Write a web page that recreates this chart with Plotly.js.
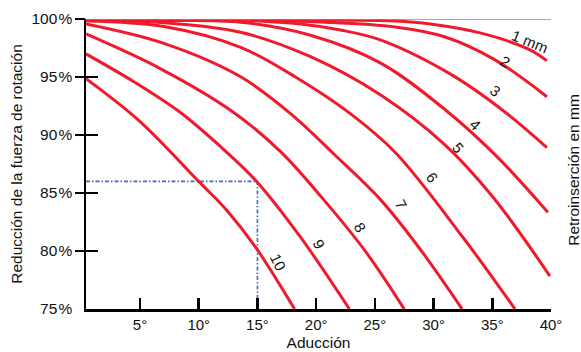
<!DOCTYPE html>
<html>
<head>
<meta charset="utf-8">
<script src="https://cdn.plot.ly/plotly-3.0.1.min.js"></script>
<style>
  html, body { margin: 0; padding: 0; background: #fff; }
  #chart { width: 581px; height: 352px; }
</style>
</head>
<body>
<div id="chart"></div>
<script>
// Retroinserción (mm) for each curve
const retro = [1, 2, 3, 4, 5, 6, 7, 8, 9, 10];
const curveLabels = ["1 mm", "2", "3", "4", "5", "6", "7", "8", "9", "10"];

// Aducción (°) and Reducción de la fuerza de rotación (%)
const adu1 = [0.40, 14.42, 22.07, 26.74, 29.71, 33.96, 38.21, 39.65];
const red1 = [99.95, 99.94, 99.90, 99.83, 99.57, 98.80, 97.34, 96.39];
const adu2 = [0.40, 13.57, 20.37, 26.74, 30.99, 35.23, 39.65];
const red2 = [99.94, 99.91, 99.74, 99.31, 98.45, 96.48, 93.30];
const adu3 = [0.40, 13.57, 18.67, 22.07, 25.46, 31.41, 35.83, 39.65];
const red3 = [99.94, 99.89, 99.57, 99.05, 98.20, 95.27, 92.18, 88.92];
const adu4 = [0.40, 6.77, 13.57, 19.52, 25.46, 30.99, 35.40, 39.74];
const red4 = [99.93, 99.87, 99.72, 98.60, 96.22, 92.18, 88.14, 83.33];
const adu5 = [0.40, 6.77, 13.57, 19.52, 25.46, 30.90, 35.00, 39.91];
const red5 = [99.91, 99.70, 98.86, 96.75, 93.47, 89.22, 84.72, 77.84];
const adu6 = [0.40, 7.03, 13.57, 18.24, 22.91, 26.74, 32.43, 36.93];
const red6 = [99.83, 99.35, 97.56, 95.00, 91.84, 88.49, 81.27, 75.00];
const adu7 = [0.40, 7.03, 13.57, 17.82, 21.64, 25.46, 28.86, 32.43];
const red7 = [99.57, 97.90, 95.02, 91.84, 88.23, 84.45, 80.15, 75.00];
const adu8 = [0.40, 6.60, 12.89, 16.97, 20.62, 24.19, 27.50];
const red8 = [98.71, 95.79, 92.01, 88.57, 84.45, 79.98, 75.00];
const adu9 = [0.40, 4.48, 8.47, 11.70, 14.93, 18.67, 22.83];
const red9 = [96.99, 94.59, 91.92, 89.14, 86.00, 81.19, 75.00];
const adu10 = [0.40, 5.00, 10.00, 12.40, 14.84, 18.16];
const red10 = [94.85, 91.16, 86.00, 83.50, 80.33, 75.00];

// Curve label positions (°, %) and angles
const labelX = [38.21, 36.08, 35.23, 33.54, 32.09, 29.88, 27.25, 23.76, 20.28, 16.80];
const labelY = [98.02, 96.31, 93.81, 90.89, 88.92, 86.34, 84.02, 82.04, 80.58, 79.04];
const labelAngle = [22, 32, 38, 44, 50, 56, 62, 60, 62, 64];

// Reference (dashed) guide at 15° / 86 %
const guideX = [0.4, 15, 15];
const guideY = [86, 86, 75];

// Ticks
const xTickVals = [5, 10, 15, 20, 25, 30, 35, 40];
const xTickText = ["5°", "10°", "15°", "20°", "25°", "30°", "35°", "40°"];
const yTickVals = [75, 80, 85, 90, 95, 100];
const yTickText = ["75\u200A%", "80\u200A%", "85\u200A%", "90\u200A%", "95\u200A%", "100\u200A%"];
const yMarkVals = [80, 85, 90, 95, 100];

const xs = [adu1, adu2, adu3, adu4, adu5, adu6, adu7, adu8, adu9, adu10];
const ys = [red1, red2, red3, red4, red5, red6, red7, red8, red9, red10];

const FONT = "Liberation Sans, Arial, Helvetica, sans-serif";
const RED = "#f01a2c";

const traces = [];
traces.push({
  x: guideX, y: guideY, type: "scatter", mode: "lines",
  line: { color: "#3a6cc8", width: 1.6, dash: "4px,2px,1.5px,2px" },
  hoverinfo: "skip", showlegend: false
});
retro.forEach((r, i) => {
  traces.push({
    x: xs[i], y: ys[i], type: "scatter", mode: "lines",
    name: r + " mm",
    line: { color: RED, width: 3, shape: "spline", smoothing: 1 },
    showlegend: false
  });
});
// empty helpers so the tick-only axes are drawn
traces.push({ x: [], y: [], yaxis: "y2", type: "scatter", mode: "lines", showlegend: false, hoverinfo: "skip" });
traces.push({ x: [], y: [], yaxis: "y3", type: "scatter", mode: "lines", showlegend: false, hoverinfo: "skip" });

const annotations = retro.map((r, i) => ({
  x: labelX[i], y: labelY[i], xref: "x", yref: "y",
  text: curveLabels[i], showarrow: false, textangle: labelAngle[i],
  font: { family: FONT, size: 15, color: "#111" }
}));
annotations.push({
  x: 1, y: 0.48, xref: "paper", yref: "paper", xshift: 23,
  text: "Retroinserción en mm", showarrow: false, textangle: -90,
  xanchor: "center", yanchor: "middle",
  font: { family: FONT, size: 15.5, color: "#111" }
});

const tickAxis = (kind, len) => ({
  overlaying: "y", range: [75, 100], tickmode: "array", tickvals: yMarkVals,
  ticks: kind, ticklen: len, tickwidth: 2.5, tickcolor: "#000",
  showticklabels: false, showgrid: false, zeroline: false, showline: false,
  fixedrange: true
});

const layout = {
  width: 581, height: 352,
  margin: { l: 86, r: 30, t: 19, b: 43 },
  paper_bgcolor: "#fff", plot_bgcolor: "#fff",
  font: { family: FONT, color: "#111" },
  xaxis: {
    range: [0.4, 40], tickmode: "array", tickvals: xTickVals, ticktext: xTickText,
    ticks: "inside", ticklen: 11, tickwidth: 2.5, tickcolor: "#000",
    showline: true, linecolor: "#000", linewidth: 2.5,
    showgrid: false, zeroline: false,
    tickfont: { family: FONT, size: 15, color: "#111" },
    title: { text: "Aducción", font: { family: FONT, size: 15.5, color: "#111" }, standoff: 6 }
  },
  yaxis: {
    range: [75, 100], tickmode: "array", tickvals: yTickVals, ticktext: yTickText,
    ticks: "outside", ticklen: 8, tickwidth: 2.5, tickcolor: "rgba(0,0,0,0)",
    showline: true, linecolor: "#000", linewidth: 2.5,
    showgrid: false, zeroline: false,
    tickfont: { family: FONT, size: 15.5, color: "#111" },
    title: { text: "Reducción de la fuerza de rotación", font: { family: FONT, size: 15.5, color: "#111" }, standoff: 5 }
  },
  yaxis2: tickAxis("outside", 10),
  yaxis3: tickAxis("inside", 12),
  shapes: [{
    type: "line", xref: "paper", yref: "y", x0: 0, x1: 1, y0: 100, y1: 100,
    line: { color: "#6a97a3", width: 1.5 }, layer: "above"
  }],
  annotations: annotations
};

Plotly.newPlot("chart", traces, layout, { displayModeBar: false, staticPlot: true });
</script>
</body>
</html>
